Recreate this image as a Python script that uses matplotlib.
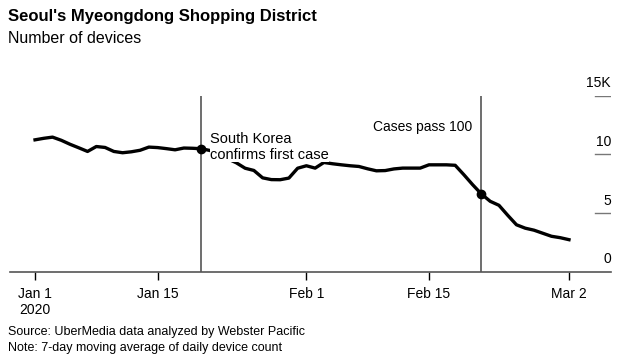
import numpy as np
import matplotlib.pyplot as plt
import matplotlib.transforms as mtransforms

plt.rcParams['font.family'] = ['Liberation Sans', 'DejaVu Sans']

# Devices (thousands), 7-day average, one value per day Jan 1 .. Mar 2 2020
devices = [11.24, 11.37, 11.47, 11.2, 10.86, 10.56, 10.25, 10.67, 10.59, 10.25,
           10.14, 10.22, 10.35, 10.62, 10.58, 10.49, 10.39, 10.54, 10.52, 10.48,
           10.33, 9.97, 9.63, 9.28, 8.82, 8.63, 8.0, 7.85, 7.84, 7.98,
           8.82, 9.03, 8.83, 9.31, 9.2, 9.11, 9.03, 8.97, 8.77, 8.6,
           8.62, 8.76, 8.83, 8.83, 8.83, 9.11, 9.11, 9.11, 9.07, 8.26,
           7.41, 6.62, 6.0, 5.66, 4.81, 4.0, 3.71, 3.54, 3.28, 3.02,
           2.9, 2.73]
days = np.arange(len(devices))

xtick_days = [0, 14, 31, 45, 61]
xtick_labels = ['Jan 1\n2020', 'Jan 15', 'Feb 1', 'Feb 15', 'Mar 2']
ytick_vals = [0, 5, 10, 15]
ytick_labels = ['0', '5', '10', '15K']

events_day = [19, 51]   # Jan 20, Feb 21
events_text = ['South Korea\nconfirms first case', 'Cases pass 100']

fig = plt.figure(figsize=(6.29, 3.62), dpi=100)
ax = fig.add_axes([0.0159, 0.2494, 0.9555, 0.4862])

ax.set_xlim(-2.86, 65.8)
ax.set_ylim(0, 15)

for d in events_day:
    ax.axvline(d, color='#555555', lw=1.2, zorder=1)

ax.plot(days, devices, color='black', lw=2.4, solid_joinstyle='round', zorder=2)
ax.plot([days[d] for d in events_day], [devices[d] for d in events_day], 'o',
        color='black', ms=6, zorder=3)

# annotations (white box hides the line behind the text)
ax.text(events_day[0] + 1.0, 10.62, events_text[0], fontsize=10.5, ha='left', va='center',
        linespacing=1.12, color='black', zorder=2.5,
        bbox=dict(facecolor='white', edgecolor='none', pad=0.3))
ax.text(events_day[1] - 1.0, 12.35, events_text[1], fontsize=10, ha='right', va='center',
        color='black', zorder=2.5)

# y labels on right with short tick lines
blend = mtransforms.blended_transform_factory(ax.transAxes, ax.transData)
for v, lab in zip(ytick_vals, ytick_labels):
    if v > 0:
        ax.axhline(v, xmin=0.973, xmax=1.0, color='#777777', lw=1)
    ax.text(1.0, v + 0.45, lab, transform=blend, ha='right', va='bottom',
            fontsize=10, color='black')

ax.set_yticks([])
ax.set_xticks(xtick_days)
ax.set_xticklabels(xtick_labels, fontsize=10)
ax.tick_params(axis='x', length=6, width=1, color='black', pad=5)

for s in ['top', 'right', 'left']:
    ax.spines[s].set_visible(False)
ax.spines['bottom'].set_color('#555555')
ax.spines['bottom'].set_linewidth(1.2)

fig.text(0.0127, 0.955, "Seoul's Myeongdong Shopping District", fontsize=12,
         fontweight='bold', ha='left', va='center')
fig.text(0.0127, 0.893, 'Number of devices', fontsize=11.5, ha='left', va='center')
fig.text(0.0127, 0.082, 'Source: UberMedia data analyzed by Webster Pacific',
         fontsize=9, ha='left', va='center')
fig.text(0.0127, 0.039, 'Note: 7-day moving average of daily device count',
         fontsize=9, ha='left', va='center')

fig.savefig('out.png', dpi=100, facecolor='white')
